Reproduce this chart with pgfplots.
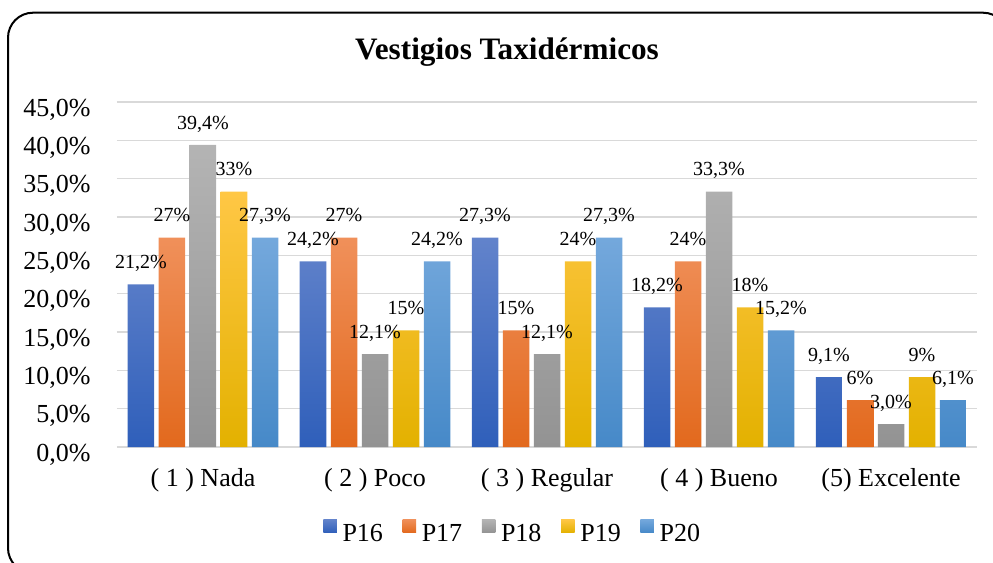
\documentclass[border=0pt]{standalone}
\usepackage{fontspec}
\setmainfont{Liberation Serif}
\usepackage{pgfplots}
\pgfplotsset{compat=1.18}
\definecolor{aT}{HTML}{6283CB}\definecolor{aB}{HTML}{2F5FBA}
\definecolor{bT}{HTML}{F0905A}\definecolor{bB}{HTML}{E2691D}
\definecolor{cT}{HTML}{B4B4B4}\definecolor{cB}{HTML}{939393}
\definecolor{dT}{HTML}{FFC745}\definecolor{dB}{HTML}{E3B100}
\definecolor{eT}{HTML}{74A8DC}\definecolor{eB}{HTML}{4689C8}
\definecolor{gridgray}{HTML}{D9D9D9}
\begin{document}
\begin{tikzpicture}[x=0.75pt,y=-0.75pt]
\useasboundingbox (0,0) rectangle (993,563);
\draw[line width=1.5pt, rounded corners=18.75pt] (8,12.7) rectangle (1008,573);
\node[anchor=base, inner sep=0pt, font=\bfseries\fontsize{23.4}{28}\selectfont] at (507,59.3) {Vestigios Taxidérmicos};
\begin{axis}[
  at={(87.75pt,-335.25pt)}, anchor=south west,
  scale only axis, width=645pt, height=258.75pt,
  ybar=3.375pt, bar width=19.875pt,
  xmin=-0.5, xmax=4.5, ymin=0, ymax=45,
  xtick={0,1,2,3,4},
  xticklabels={( 1 ) Nada,( 2 ) Poco,( 3 ) Regular,( 4 ) Bueno,(5) Excelente},
  ytick={0,5,10,15,20,25,30,35,40,45},
  yticklabels={{0,0\%},{5,0\%},{10,0\%},{15,0\%},{20,0\%},{25,0\%},{30,0\%},{35,0\%},{40,0\%},{45,0\%}},
  ymajorgrids, major grid style={draw=gridgray, line width=1pt},
  axis line style={draw=none}, major tick length=0pt,
  tick label style={font=\fontsize{19.5}{23}\selectfont},
  yticklabel style={anchor=base east, inner sep=0pt, xshift=-19.7pt, yshift=-10.7pt},
  xticklabel style={anchor=base, inner sep=0pt, yshift=-29.8pt},
  clip=false,
  nodes near coords, point meta=explicit symbolic,
  every node near coord/.append style={anchor=base, yshift=11.8pt, inner sep=0pt, text=black, font=\fontsize{15}{18}\selectfont},
  legend columns=5,
  legend style={at={(0.459,-0.21)}, anchor=north, draw=none, fill=none, inner sep=0pt, outer sep=0pt,
    font=\fontsize{19.5}{23}\selectfont, nodes={inner sep=0pt},
    /tikz/every odd column/.append style={column sep=4.3pt},
    /tikz/every even column/.append style={column sep=14.8pt}},
  legend image code/.code={\path[#1,draw=none] (0pt,0.75pt) rectangle (10pt,10.75pt);},
]
\addplot[draw=none, top color=aT, bottom color=aB] coordinates {(0,21.2)[21,2\%] (1,24.2)[24,2\%] (2,27.3)[27,3\%] (3,18.2)[18,2\%] (4,9.1)[9,1\%]};
\addplot[draw=none, top color=bT, bottom color=bB] coordinates {(0,27.3)[27\%] (1,27.3)[27\%] (2,15.2)[15\%] (3,24.2)[24\%] (4,6.1)[6\%]};
\addplot[draw=none, top color=cT, bottom color=cB] coordinates {(0,39.4)[39,4\%] (1,12.1)[12,1\%] (2,12.1)[12,1\%] (3,33.3)[33,3\%] (4,3.0)[3,0\%]};
\addplot[draw=none, top color=dT, bottom color=dB] coordinates {(0,33.3)[33\%] (1,15.2)[15\%] (2,24.2)[24\%] (3,18.2)[18\%] (4,9.1)[9\%]};
\addplot[draw=none, top color=eT, bottom color=eB] coordinates {(0,27.3)[27,3\%] (1,24.2)[24,2\%] (2,27.3)[27,3\%] (3,15.2)[15,2\%] (4,6.1)[6,1\%]};
\legend{P16,P17,P18,P19,P20}
\end{axis}
\end{tikzpicture}
\end{document}
